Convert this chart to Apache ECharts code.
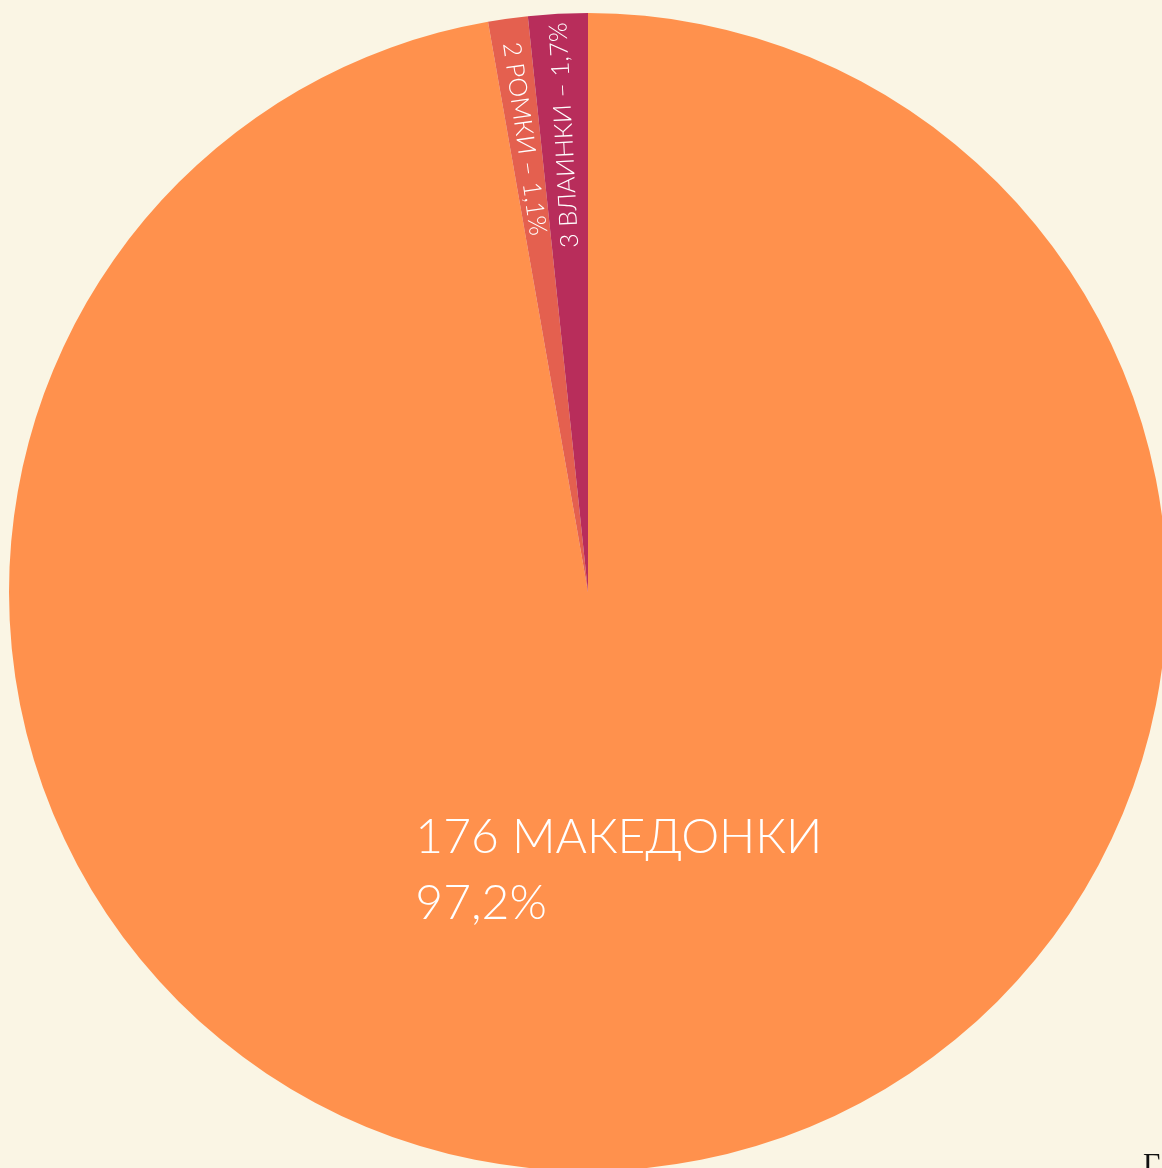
<!DOCTYPE html>
<html>
<head>
<meta charset="utf-8">
<script src="https://cdn.jsdelivr.net/npm/echarts@6/dist/echarts.min.js"></script>
<style>
  html, body { margin: 0; padding: 0; background: #faf5e4; }
  #chart { width: 1162px; height: 1168px; }
</style>
</head>
<body>
<div id="chart"></div>
<script>
var names = ['МАКЕДОНКИ', 'РОМКИ', 'ВЛАИНКИ'];
var counts = [176, 2, 3];
var percents = ['97,2%', '1,1%', '1,7%'];
var colors = ['#ff914d', '#e4604f', '#b82d5b'];
var labelRotate = [0, -82, 93];

(function() {
  var chart = echarts.init(document.getElementById('chart'), null, { renderer: 'canvas' });
  var font = 'Lato, "Noto Sans", sans-serif';

  var mainData = names.map(function(n, i) {
    return {
      name: n,
      value: counts[i],
      itemStyle: { color: colors[i] },
      label: { show: i === 0 }
    };
  });

  var overlayData = names.map(function(n, i) {
    return {
      name: n,
      value: counts[i],
      itemStyle: { color: 'transparent' },
      label: { show: i !== 0, rotate: labelRotate[i] }
    };
  });

  chart.setOption({
    animation: false,
    backgroundColor: '#faf5e4',
    series: [{
      type: 'pie',
      center: [588, 592],
      radius: 579,
      startAngle: 90,
      clockwise: true,
      data: mainData,
      itemStyle: { borderWidth: 0 },
      labelLine: { show: false },
      label: {
        position: 'inside',
        offset: [6, -13],
        color: '#ffffff',
        fontFamily: font,
        fontWeight: 300,
        formatter: function(p) {
          return '{a|' + p.value + ' ' + p.name + '}\n{a|' + percents[p.dataIndex] + '}';
        },
        rich: {
          a: { width: 408, align: 'left', fontSize: 48, lineHeight: 66, color: '#ffffff', fontFamily: font, fontWeight: 300 }
        }
      }
    }, {
      type: 'pie',
      center: [588, 592],
      radius: [330, 579],
      startAngle: 90,
      clockwise: true,
      silent: true,
      data: overlayData,
      itemStyle: { borderWidth: 0 },
      labelLine: { show: false },
      label: {
        position: 'inside',
        color: '#ffffff',
        fontFamily: font,
        fontWeight: 300,
        fontSize: 25,
        formatter: function(p) {
          return p.value + ' ' + p.name + ' – ' + percents[p.dataIndex];
        }
      }
    }],
    graphic: [{
      type: 'text',
      left: 1143,
      top: 1150,
      style: { text: 'Г', fontSize: 30, fontFamily: '"Liberation Serif", serif', fill: '#111111' }
    }]
  });
  window.addEventListener('resize', function() { chart.resize(); });
})();
</script>
</body>
</html>
